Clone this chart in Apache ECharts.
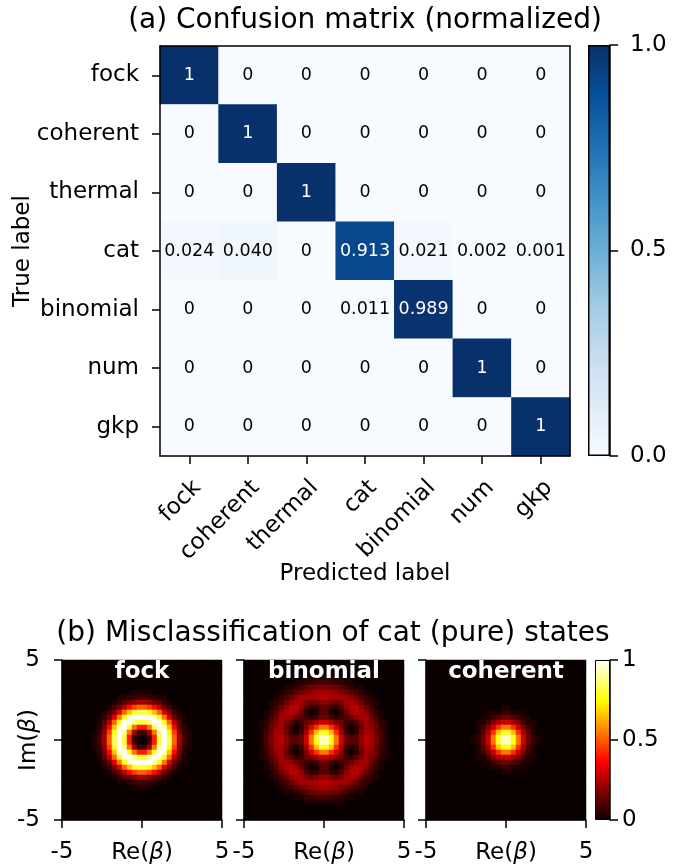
<!DOCTYPE html>
<html>
<head>
<meta charset="utf-8">
<script src="https://cdn.jsdelivr.net/npm/echarts@6/dist/echarts.min.js"></script>
<style>
html,body{margin:0;padding:0;background:#fff;}
#chart{width:680px;height:867px;}
</style>
</head>
<body>
<div id="chart"></div>
<script>
// ---------------- data ----------------
const stateLabels = ['fock', 'coherent', 'thermal', 'cat', 'binomial', 'num', 'gkp'];

const rowFock     = [1, 0, 0, 0, 0, 0, 0];
const rowCoherent = [0, 1, 0, 0, 0, 0, 0];
const rowThermal  = [0, 0, 1, 0, 0, 0, 0];
const rowCat      = [0.024, 0.040, 0, 0.913, 0.021, 0.002, 0.001];
const rowBinomial = [0, 0, 0, 0.011, 0.989, 0, 0];
const rowNum      = [0, 0, 0, 0, 0, 1, 0];
const rowGkp      = [0, 0, 0, 0, 0, 0, 1];
const confusion = [rowFock, rowCoherent, rowThermal, rowCat, rowBinomial, rowNum, rowGkp];

const panelNames = ['fock', 'binomial', 'coherent'];

// Q-function images, 32 x 32 cells.
// Each character is a level 0..35 (base-36 digit), value = level / 35.
const Z = '00000000000000000000000000000000';
const fockRows = [
  Z, Z, Z, Z, Z, Z,
  '00000000000000111100000000000000',
  '00000000000112233221100000000000',
  '00000000001245788754210000000000',
  '0000000001359dgiigd9531000000000',
  '00000000136binrttrnib63100000000',
  '0000000125bjrxzzzzxrjb5210000000',
  '0000000149iryzvssvzyri9410000000',
  '000000025dnxzsjeejszxnd520000000',
  '000000127grzvj8338jvzrg721000000',
  '000000138itzse3003eszti831000000',
  '000000138itzse3003eszti831000000',
  '000000127grzvj8338jvzrg721000000',
  '000000025dnxzsjeejszxnd520000000',
  '0000000149iryzvssvzyri9410000000',
  '0000000125bjrxzzzzxrjb5210000000',
  '00000000136binrttrnib63100000000',
  '0000000001359dgiigd9531000000000',
  '00000000001245788754210000000000',
  '00000000000112233221100000000000',
  '00000000000000111100000000000000',
  Z, Z, Z, Z, Z, Z
];
const binomialRows = [
  Z, Z, Z,
  '00000000000011111111000000000000',
  '00000000001122333322110000000000',
  '00000000112345566554321100000000',
  '00000001234567888876543210000000',
  '00000012357888899888875321000000',
  '00000123578865677656887532100000',
  '00000135799742244224799753100000',
  '00001247898520144102589874210000',
  '00001358875432355323457885310000',
  '000124686423568aa865324686421000',
  '0001257852026bfjjfb6202587521000',
  '0001358862138fnrrnf8312688531000',
  '000136897445ajrxxrja544798631000',
  '000136897445ajrxxrja544798631000',
  '0001358862138fnrrnf8312688531000',
  '0001257852026bfjjfb6202587521000',
  '000124686423568aa865324686421000',
  '00001358875432355323457885310000',
  '00001247898520144102589874210000',
  '00000135799742244224799753100000',
  '00000123578865677656887532100000',
  '00000012357888899888875321000000',
  '00000001234567888876543210000000',
  '00000000112345566554321100000000',
  '00000000001122333322110000000000',
  '00000000000011111111000000000000',
  Z, Z, Z
];
const coherentRows = [
  Z, Z, Z, Z, Z, Z, Z, Z, Z,
  '00000000000000011000000000000000',
  '00000000000011122111000000000000',
  '00000000000113455431100000000000',
  '000000000011368aa863110000000000',
  '0000000000136afjjfa6310000000000',
  '0000000000148fnrrnf8410000000000',
  '000000000125ajrxxrja521000000000',
  '000000000125ajrxxrja521000000000',
  '0000000000148fnrrnf8410000000000',
  '0000000000136afjjfa6310000000000',
  '000000000011368aa863110000000000',
  '00000000000113455431100000000000',
  '00000000000011122111000000000000',
  '00000000000000011000000000000000',
  Z, Z, Z, Z, Z, Z, Z, Z, Z
];
const panelRows = [fockRows, binomialRows, coherentRows];
const LEVELS = 35;

// ---------------- styles ----------------
const FONT = '"DejaVu Sans", sans-serif';
const FS = 23;
const BLUES = ['#f7fbff', '#deebf7', '#c6dbef', '#9ecae1', '#6baed6', '#4292c6', '#2171b5', '#08519c', '#08306b'];
function hot(t) {
  const r = Math.min(1, 0.0416 + t * (1 - 0.0416) / 0.365079);
  const g = t < 0.365079 ? 0 : Math.min(1, (t - 0.365079) / (0.746032 - 0.365079));
  const b = t < 0.746032 ? 0 : Math.min(1, (t - 0.746032) / (1 - 0.746032));
  return 'rgb(' + Math.round(r * 255) + ',' + Math.round(g * 255) + ',' + Math.round(b * 255) + ')';
}
const HOT = [];
for (let k = 0; k <= 100; k++) HOT.push(hot(k / 100));

const lineSt = { show: true, lineStyle: { color: '#000', width: 1.5 } };
const tickSt = { show: true, length: 8, lineStyle: { color: '#000', width: 1.5 } };
const lbl = { fontFamily: FONT, fontSize: FS, color: '#000' };
const betaRich = { i: { fontFamily: FONT, fontSize: FS, fontStyle: 'italic', color: '#000' } };

// ---------------- build ----------------
function fmt(v) { return v === 0 ? '0' : (v === 1 ? '1' : v.toFixed(3)); }
const cmData = [];
confusion.forEach((row, r) => row.forEach((v, c) => {
  cmData.push({ value: [c, r, v], label: { color: v > 0.5 ? '#fff' : '#000' } });
}));
function cells(rows) {
  const out = [];
  rows.forEach((row, r) => {
    for (let c = 0; c < row.length; c++) out.push([c, r, parseInt(row[c], 36) / LEVELS]);
  });
  return out;
}
const IDX = Array.from({ length: 32 }, (_, i) => String(i));

const grid = [
  { left: 160, top: 46, width: 410, height: 410, outerBoundsMode: 'none' },
  { left: 588, top: 45, width: 22, height: 411, outerBoundsMode: 'none' }
];
const xAxis = [
  { gridIndex: 0, type: 'category', data: stateLabels, position: 'bottom', z: 10,
    axisLine: lineSt, axisTick: Object.assign({ alignWithLabel: true }, tickSt),
    axisLabel: Object.assign({ interval: 0, rotate: 45, align: 'right', verticalAlign: 'top', margin: 20 }, lbl),
    splitLine: { show: false },
    name: 'Predicted label', nameLocation: 'middle', nameGap: 107, nameMoveOverlap: false, nameTextStyle: lbl },
  { gridIndex: 0, type: 'category', data: stateLabels, position: 'top', z: 10,
    axisLine: lineSt, axisTick: { show: false }, axisLabel: { show: false } },
  { gridIndex: 1, type: 'category', data: ['cb'], show: false }
];
const yAxis = [
  { gridIndex: 0, type: 'category', data: stateLabels, inverse: true, position: 'left', z: 10,
    axisLine: lineSt, axisTick: Object.assign({ alignWithLabel: true }, tickSt),
    axisLabel: Object.assign({ interval: 0, margin: 21 }, lbl),
    name: 'True label', nameLocation: 'middle', nameGap: 125, nameMoveOverlap: false, nameTextStyle: lbl },
  { gridIndex: 0, type: 'category', data: stateLabels, inverse: true, position: 'right', z: 10,
    axisLine: lineSt, axisTick: { show: false }, axisLabel: { show: false } },
  { gridIndex: 1, type: 'value', min: 0, max: 1, interval: 0.5, position: 'right', z: 10,
    axisLine: lineSt, axisTick: tickSt, splitLine: { show: false },
    axisLabel: Object.assign({ margin: 20, formatter: v => v.toFixed(1) }, lbl) }
];
const series = [
  { type: 'heatmap', xAxisIndex: 0, yAxisIndex: 0, data: cmData, progressive: 0,
    itemStyle: { borderWidth: 0 }, emphasis: { disabled: true },
    label: { show: true, fontFamily: FONT, fontSize: 17.5, formatter: p => fmt(p.value[2]) } },
  { type: 'bar', xAxisIndex: 2, yAxisIndex: 2, data: [1], barWidth: '100%', silent: true,
    itemStyle: { borderColor: '#000', borderWidth: 1.5,
      color: { type: 'linear', x: 0, y: 0, x2: 0, y2: 1,
        colorStops: BLUES.slice().reverse().map((c, i) => ({ offset: i / (BLUES.length - 1), color: c })) } } }
];
const graphic = [
  { type: 'text', x: 365, y: 21, z: 100, style: { text: '(a) Confusion matrix (normalized)', fontFamily: FONT, fontSize: 28, fill: '#000', align: 'center', verticalAlign: 'middle' } },
  { type: 'text', x: 333, y: 634, z: 100, style: { text: '(b) Misclassification of cat (pure) states', fontFamily: FONT, fontSize: 28, fill: '#000', align: 'center', verticalAlign: 'middle' } }
];
const panelLefts = [62, 244, 426];
const imgSeries = [];
panelNames.forEach((name, i) => {
  const g = grid.length;
  grid.push({ left: panelLefts[i], top: 660, width: 160, height: 160, outerBoundsMode: 'none' });
  const xc = xAxis.length;
  xAxis.push({ gridIndex: g, type: 'category', data: IDX, show: false });
  xAxis.push({ gridIndex: g, type: 'value', min: -5, max: 5, interval: 5, position: 'bottom', z: 10,
    axisLine: lineSt, axisTick: tickSt, splitLine: { show: false },
    axisLabel: Object.assign({ margin: 21, showMinLabel: true, showMaxLabel: true, formatter: v => (v === 0 ? '' : String(v)) }, lbl),
    name: 'Re({i|β})', nameLocation: 'middle', nameGap: 22, nameMoveOverlap: false,
    nameTextStyle: Object.assign({ rich: betaRich }, lbl) });
  const yc = yAxis.length;
  yAxis.push({ gridIndex: g, type: 'category', data: IDX, inverse: true, show: false });
  const yv = { gridIndex: g, type: 'value', min: -5, max: 5, interval: 5, position: 'left', z: 10,
    axisLine: lineSt, axisTick: tickSt, splitLine: { show: false },
    axisLabel: Object.assign({ show: i === 0, margin: 22, formatter: v => (v === 0 ? '' : String(v)) }, lbl) };
  if (i === 0) {
    yv.name = 'Im({i|β})'; yv.nameLocation = 'middle'; yv.nameGap = 21; yv.nameMoveOverlap = false;
    yv.nameTextStyle = Object.assign({ rich: betaRich }, lbl);
  }
  yAxis.push(yv);
  imgSeries.push(series.length);
  series.push({ type: 'heatmap', xAxisIndex: xc, yAxisIndex: yc, data: cells(panelRows[i]), progressive: 0,
    itemStyle: { borderWidth: 0 }, emphasis: { disabled: true }, silent: true });
  graphic.push({ type: 'text', x: panelLefts[i] + 80, y: 672, z: 100,
    style: { text: name, fontFamily: FONT, fontSize: 23, fontWeight: 'bold', fill: '#fff', align: 'center', verticalAlign: 'middle' } });
});
// hot colorbar
{
  const g = grid.length;
  grid.push({ left: 595, top: 660, width: 15, height: 160, outerBoundsMode: 'none' });
  const xc = xAxis.length;
  xAxis.push({ gridIndex: g, type: 'category', data: ['cb'], show: false });
  const yc = yAxis.length;
  yAxis.push({ gridIndex: g, type: 'value', min: 0, max: 1, interval: 0.5, position: 'right', z: 10,
    axisLine: lineSt, axisTick: tickSt, splitLine: { show: false },
    axisLabel: Object.assign({ margin: 12, formatter: v => String(v) }, lbl) });
  series.push({ type: 'bar', xAxisIndex: xc, yAxisIndex: yc, data: [1], barWidth: '100%', silent: true,
    itemStyle: { borderColor: '#000', borderWidth: 1,
      color: { type: 'linear', x: 0, y: 0, x2: 0, y2: 1,
        colorStops: [
          { offset: 0, color: '#ffffff' },
          { offset: 1 - 0.746032, color: '#ffff00' },
          { offset: 1 - 0.365079, color: '#ff0000' },
          { offset: 1, color: 'rgb(11,0,0)' }
        ] } } });
}

const option = {
  animation: false,
  textStyle: { fontFamily: FONT },
  grid: grid,
  xAxis: xAxis,
  yAxis: yAxis,
  visualMap: [
    { type: 'continuous', show: false, min: 0, max: 1, dimension: 2, seriesIndex: 0, inRange: { color: BLUES } },
    { type: 'continuous', show: false, min: 0, max: 1, dimension: 2, seriesIndex: imgSeries, inRange: { color: HOT } }
  ],
  series: series,
  graphic: graphic
};
const chart = echarts.init(document.getElementById('chart'), null, { renderer: 'canvas' });
chart.setOption(option);
</script>
</body>
</html>
